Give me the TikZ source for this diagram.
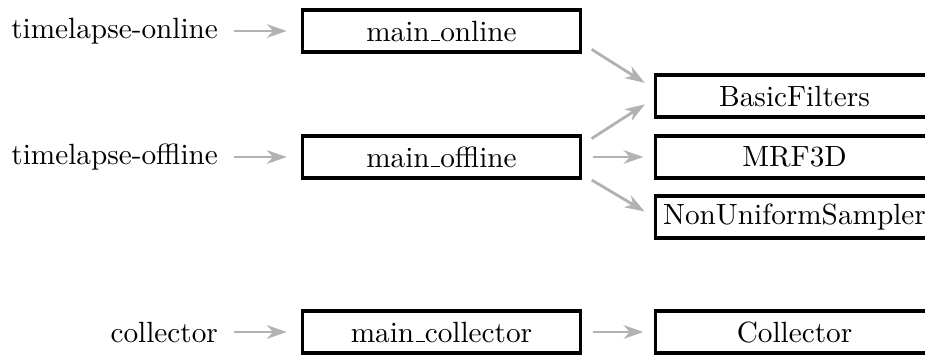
\documentclass[tikz,border=0pt]{standalone}
\usetikzlibrary{arrows.meta}

\newcommand\lowbar{\leavevmode\kern.06em\vbox{\hrule width.3em}}

\begin{document}
\begin{tikzpicture}[x=0.352pt, y=-0.352pt, font=\fontsize{10.3pt}{12pt}\selectfont,
		module/.style={draw, line width=1.15pt, minimum width=97.8pt, minimum height=14.8pt, inner sep=0pt},
		entry/.style={anchor=east},
		flow/.style={draw=black!30, line width=1pt, -{Stealth[length=7pt, width=4.8pt, inset=2.2pt]}}]
			\useasboundingbox (0,0) rectangle (925,356);
			% executables and their main modules
			\foreach \name/\txt/\y in {online/timelapse-online/31, offline/timelapse-offline/157, collector/collector/332}
			{
				\node[module] (main_\name) at (441.5,\y) {main\lowbar\name};
				\node[entry] (exe_\name) at (228,\y) {\txt};
				\draw[flow, shorten <=2pt, shorten >=5pt] (exe_\name) -- (main_\name);
			}
			% libraries
			\foreach \name/\y in {BasicFilters/96, MRF3D/157, NonUniformSampler/217, Collector/332}
			{
				\node[module] (\name) at (794.5,\y) {\name};
			}
			\draw[flow, shorten <=4pt, shorten >=3.8pt]
				(main_online.-5.7) -- (BasicFilters.177)
				;
			\draw[flow, shorten <=4pt, shorten >=3.8pt]
				(main_offline.5.3) -- (BasicFilters.181)
				;
			\draw[flow, shorten <=4pt, shorten >=3.8pt]
				(main_offline.-7.7) -- (NonUniformSampler.west)
				;
			\draw[flow, shorten <=3.7pt, shorten >=3.7pt] (main_offline) -- (MRF3D);
			\draw[flow, shorten <=3.7pt, shorten >=3.7pt] (main_collector) -- (Collector);
		\end{tikzpicture}
\end{document}
